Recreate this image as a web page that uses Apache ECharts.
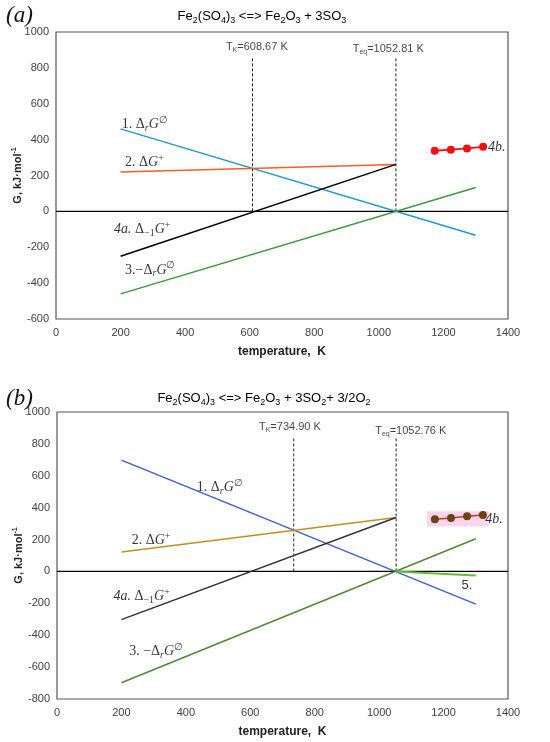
<!DOCTYPE html>
<html><head><meta charset="utf-8">
<script src="https://cdn.jsdelivr.net/npm/echarts@6/dist/echarts.min.js"></script>
<style>html,body{margin:0;padding:0;background:#fff}#c{width:550px;height:742px}</style>
</head><body><div id="c"></div>
<script>
// ---------- axis ticks ----------
const xTicks = [0, 200, 400, 600, 800, 1000, 1200, 1400];
const yTicksA = [-600, -400, -200, 0, 200, 400, 600, 800, 1000];
const yTicksB = [-800, -600, -400, -200, 0, 200, 400, 600, 800, 1000];

// ---------- panel (a): Fe2(SO4)3 <=> Fe2O3 + 3SO3 ----------
const aLineT = [200, 1300];
const aDrG = [460, -133];          // 1. ΔrG°
const aNegDrG = [-460, 133];       // 3. −ΔrG°
const aPlusT = [200, 1052.81];
const aDGplus = [220, 262];        // 2. ΔG+
const aDm1G = [-250, 262];         // 4a. Δ−1G+
const a4bT = [1173, 1223, 1273, 1323];
const a4b = [338, 344, 351, 360];  // 4b.
const aTK = 608.67, aTeq = 1052.81;
const aVTop = 853;
const zeroT = [0, 1400];
const zeroG = [0, 0];

// ---------- panel (b): Fe2(SO4)3 <=> Fe2O3 + 3SO2 + 3/2O2 ----------
const bLineT = [200, 1300];
const bDrG = [698, -205];
const bNegDrG = [-698, 205];
const bPlusT = [200, 1052.76];
const bDGplus = [122, 338];
const bDm1G = [-302, 338];
const b5T = [1052.76, 1300];
const b5 = [0, -26];               // 5.
const b4bT = [1173, 1223, 1273, 1322];
const b4b = [327, 335, 346, 354];
const bTK = 734.90, bTeq = 1052.76;
const bVTop = 845;

const pts = (xs, ys) => xs.map((x, i) => [x, ys[i]]);

const SERIF = "'Liberation Serif','DejaVu Serif',serif";
const SANS = "'Liberation Sans',Arial,sans-serif";
const C = '#000';
const rich = {
  n: {fontFamily: SERIF, fontSize: 14, lineHeight: 18, color: C},
  i: {fontFamily: SERIF, fontStyle: 'italic', fontSize: 14, lineHeight: 18, color: C},
  sb: {fontFamily: SERIF, fontStyle: 'italic', fontSize: 10, lineHeight: 9, verticalAlign: 'bottom', color: C},
  sbn: {fontFamily: SERIF, fontSize: 10, lineHeight: 9, verticalAlign: 'bottom', color: C},
  sp: {fontFamily: SERIF, fontSize: 10, lineHeight: 9, verticalAlign: 'top', color: C},
  a: {fontFamily: SANS, fontSize: 13, lineHeight: 18, color: C},
  t: {fontFamily: SANS, fontSize: 11, lineHeight: 14, color: '#111'},
  ts: {fontFamily: SANS, fontSize: 7, lineHeight: 6, verticalAlign: 'bottom', color: '#111'}
};

const L1 = '{n|1. Δ}{sb|r}{i|G}{sp|∅}';
const L2 = '{n|2. Δ}{i|G}{sp|+}';
const L3a = '{n|3.−Δ}{sb|r}{i|G}{sp|∅}';
const L3b = '{n|3. −Δ}{sb|r}{i|G}{sp|∅}';
const L4a = '{i|4a. }{n|Δ}{sbn|−1}{i|G}{sp|+}';
const L4b = '{i|4b.}';
const L5 = '{a|5.}';
const TK = v => '{t|T}{ts|K}{t|=' + v + ' K}';
const TEQ = v => '{t|T}{ts|eq}{t|=' + v + ' K}';

function annot(xi, yi, list) {
  return {
    type: 'scatter', xAxisIndex: xi, yAxisIndex: yi, symbolSize: 0, silent: true, z: 10,
    data: list.map(a => ({
      value: [a[0], a[1]],
      label: {show: true, formatter: a[2], position: a[3] || 'right', distance: 0, color: C,
        textBorderWidth: 0, rich: rich}
    }))
  };
}

function line(xi, yi, data, color, extra) {
  return Object.assign({
    type: 'line', xAxisIndex: xi, yAxisIndex: yi, data: data, showSymbol: false, silent: true,
    lineStyle: {color: color, width: 1.5}, itemStyle: {color: color}
  }, extra || {});
}

function vline(xi, yi, T, top) {
  return line(xi, yi, [[T, 0], [T, top]], '#222', {lineStyle: {color: '#222', width: 1, type: [3, 2]}});
}

const axisLabel = {fontFamily: SANS, fontSize: 11, color: '#404040', formatter: v => String(v)};
const xAx = gi => ({
  type: 'value', gridIndex: gi, min: 0, max: 1400, interval: 200,
  axisLine: {show: false}, axisTick: {show: false}, splitLine: {show: false},
  axisLabel: Object.assign({margin: 8}, axisLabel),
  name: 'temperature,  K', nameLocation: 'middle', nameGap: 27,
  nameTextStyle: {fontFamily: SANS, fontSize: 12, fontWeight: 'bold', color: '#222'}
});
const yAx = (gi, min) => ({
  type: 'value', gridIndex: gi, min: min, max: 1000, interval: 200,
  axisLine: {show: false}, axisTick: {show: false}, splitLine: {show: false},
  axisLabel: Object.assign({margin: 7}, axisLabel),
  name: '{b|G, kJ·mol}{s|-1}', nameLocation: 'middle', nameGap: 31, nameRotate: 90,
  nameMoveOverlap: false,
  nameTextStyle: {rich: {
    b: {fontFamily: SANS, fontSize: 11, fontWeight: 'bold', color: '#222', lineHeight: 14},
    s: {fontFamily: SANS, fontSize: 7, fontWeight: 'bold', color: '#222', lineHeight: 7, verticalAlign: 'top'}
  }}
});

const titleA = '{t|Fe}{s|2}{t|(SO}{s|4}{t|)}{s|3}{t| <=> Fe}{s|2}{t|O}{s|3}{t| + 3SO}{s|3}';
const titleB = '{t|Fe}{s|2}{t|(SO}{s|4}{t|)}{s|3}{t| <=> Fe}{s|2}{t|O}{s|3}{t| + 3SO}{s|2}{t|+ 3/2O}{s|2}';
const titleRich = {
  t: {fontFamily: SANS, fontSize: 13, lineHeight: 18, color: '#222'},
  s: {fontFamily: SANS, fontSize: 9, lineHeight: 9, verticalAlign: 'bottom', color: '#222'}
};

const option = {
  animation: false,
  backgroundColor: '#fff',
  grid: [
    {left: 56, right: 42, top: 32, height: 287, show: true, borderColor: '#555', borderWidth: 1.2,
      backgroundColor: 'transparent', containLabel: false, outerBoundsMode: 'none'},
    {left: 57, right: 42, top: 412, height: 287, show: true, borderColor: '#555', borderWidth: 1.2,
      backgroundColor: 'transparent', containLabel: false, outerBoundsMode: 'none'}
  ],
  xAxis: [xAx(0), xAx(1)],
  yAxis: [yAx(0, -600), yAx(1, -800)],
  graphic: [
    {type: 'text', left: 6, top: 4, style: {text: '(a)', font: "italic 23px 'Liberation Serif'", fill: '#111'}},
    {type: 'text', left: 6, top: 387, style: {text: '(b)', font: "italic 23px 'Liberation Serif'", fill: '#111'}},
    {type: 'text', x: 262, y: 16, style: {text: titleA, rich: titleRich, align: 'center', verticalAlign: 'middle'}},
    {type: 'text', x: 264, y: 398, style: {text: titleB, rich: titleRich, align: 'center', verticalAlign: 'middle'}}
  ],
  series: [
    // ----- panel a -----
    line(0, 0, pts(zeroT, zeroG), '#000', {lineStyle: {color: '#000', width: 1.2}}),
    vline(0, 0, aTK, aVTop),
    vline(0, 0, aTeq, aVTop),
    line(0, 0, pts(aLineT, aDrG), '#1f9ad0'),
    line(0, 0, pts(aLineT, aNegDrG), '#3b9a3b'),
    line(0, 0, pts(aPlusT, aDGplus), '#ff5a26'),
    line(0, 0, pts(aPlusT, aDm1G), '#000'),
    line(0, 0, pts(a4bT, a4b), '#ee1111', {showSymbol: true, symbol: 'circle', symbolSize: 8,
      lineStyle: {color: '#ee1111', width: 1.8}, itemStyle: {color: '#ee1111'}}),
    annot(0, 0, [
      [204, 487, L1], [214, 271, L2], [180, -100, L4a], [214, -326, L3a], [1338, 355, L4b],
      [622, 918, TK('608.67'), 'inside'], [1029, 907, TEQ('1052.81'), 'inside']
    ]),
    // ----- panel b -----
    line(1, 1, pts(zeroT, zeroG), '#000', {lineStyle: {color: '#000', width: 1.2}}),
    vline(1, 1, bTK, bVTop),
    vline(1, 1, bTeq, bVTop),
    line(1, 1, pts(bLineT, bDrG), '#3f5ed2'),
    line(1, 1, pts(bLineT, bNegDrG), '#4f8a2e'),
    line(1, 1, pts(bPlusT, bDGplus), '#c48f1c'),
    line(1, 1, pts(bPlusT, bDm1G), '#333'),
    line(1, 1, pts(b5T, b5), '#5fc034', {lineStyle: {color: '#5fc034', width: 2}}),
    line(1, 1, pts(b4bT, b4b), '#c0392b', {showSymbol: true, symbol: 'circle', symbolSize: 8,
      lineStyle: {color: '#c0392b', width: 1.5}, itemStyle: {color: '#6b4414'},
      markArea: {silent: true, itemStyle: {color: 'rgba(250,200,228,0.75)'},
        data: [[{coord: [1148, 378]}, {coord: [1340, 282]}]]}}),
    annot(1, 1, [
      [434, 528, L1], [232, 197, L2], [175, -154, L4a], [224, -503, L3b], [1256, -85, L5], [1329, 327, L4b],
      [723, 908, TK('734.90'), 'inside'], [1098, 883, TEQ('1052.76'), 'inside']
    ])
  ]
};

const chart = echarts.init(document.getElementById('c'), null, {renderer: 'canvas'});
chart.setOption(option);
</script>
</body></html>
